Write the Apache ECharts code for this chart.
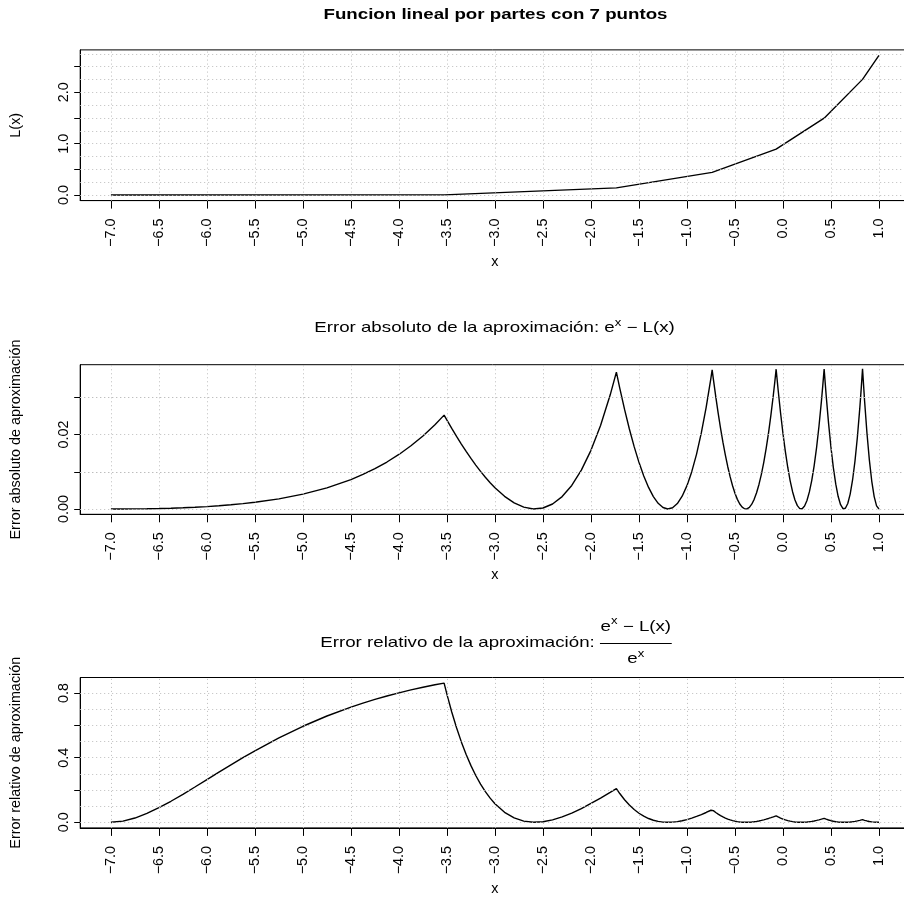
<!DOCTYPE html>
<html>
<head>
<meta charset="utf-8">
<script src="https://cdn.jsdelivr.net/npm/echarts@6.0.0/dist/echarts.min.js"></script>
<style>
  html, body { margin: 0; padding: 0; background: #ffffff; }
  #chart { width: 904px; height: 899px; }
</style>
</head>
<body>
<div id="chart"></div>
<script>
// Piecewise-linear approximation of e^x on [-7, 1] built from 7 tangent points,
// with its absolute and relative error.

const FONT_FAMILY = '"Liberation Sans", Arial, Helvetica, sans-serif';
const BASE_SIZE = 14.4;
const TEXT_STRETCH = 1.3;

// x ticks shared by the three panels
const xTickValues = [-7, -6.5, -6, -5.5, -5, -4.5, -4, -3.5, -3, -2.5, -2, -1.5, -1, -0.5, 0, 0.5, 1];
const xTickLabels = ['−7.0', '−6.5', '−6.0', '−5.5', '−5.0', '−4.5', '−4.0', '−3.5', '−3.0',
                     '−2.5', '−2.0', '−1.5', '−1.0', '−0.5', '0.0', '0.5', '1.0'];

// L(x): break points of the piecewise linear function
const nodeX = [-7, -3.5295, -1.7351, -0.7376, -0.0712, 0.4288, 0.8287, 1];
const nodeL = [0.000912, 0.004077, 0.139568, 0.440867, 0.893715, 1.497696, 2.252732, 2.718282];

// sample positions for the error curves (one line per linear piece)
const xGrid = [
  -7, -6.875, -6.75, -6.625, -6.5, -6.375, -6.25, -6.125, -6, -5.875, -5.75, -5.625, -5.5,
  -5.25, -5, -4.75, -4.5, -4.375, -4.25, -4.125, -4, -3.875, -3.75, -3.625, -3.5295,
  -3.5, -3.45, -3.4, -3.35, -3.3, -3.25, -3.2, -3.15, -3.1, -3.05, -3.0, -2.9, -2.8, -2.7, -2.6,
  -2.5, -2.4, -2.3, -2.2, -2.1, -2.0, -1.9, -1.8, -1.7351,
  -1.7, -1.65, -1.6, -1.55, -1.5, -1.45, -1.4, -1.35, -1.3, -1.25, -1.2, -1.15, -1.1, -1.05, -1.0,
  -0.95, -0.9, -0.85, -0.8, -0.75, -0.7376,
  -0.725, -0.7, -0.675, -0.65, -0.625, -0.6, -0.575, -0.55, -0.525, -0.5, -0.475, -0.45, -0.425, -0.4,
  -0.375, -0.35, -0.325, -0.3, -0.275, -0.25, -0.225, -0.2, -0.175, -0.15, -0.125, -0.1, -0.085, -0.0712,
  -0.05, -0.025, 0, 0.025, 0.05, 0.075, 0.1, 0.125, 0.15, 0.175, 0.2, 0.225, 0.25, 0.275, 0.3,
  0.325, 0.35, 0.375, 0.4, 0.415, 0.4288,
  0.45, 0.475, 0.5, 0.525, 0.55, 0.575, 0.6, 0.625, 0.65, 0.675, 0.7, 0.725, 0.75, 0.775, 0.8, 0.815, 0.8287,
  0.85, 0.875, 0.9, 0.925, 0.95, 0.975, 1.0
];

// e^x - L(x)
const absError = [
  0, 0.0000074, 0.000031, 0.000073, 0.000136, 0.000222, 0.000335, 0.000478, 0.000655, 0.000871, 0.001131, 0.001441, 0.001807,
  0.002740, 0.004002, 0.005688, 0.007917, 0.009283, 0.010845, 0.012630, 0.014668, 0.016993, 0.019642, 0.022660, 0.025241,
  0.023891, 0.021664, 0.019516, 0.017451, 0.015475, 0.013590, 0.011803, 0.010118, 0.008540, 0.007074, 0.005727, 0.003412, 0.001648, 0.000493, 0.000010,
  0.000271, 0.001353, 0.003343, 0.006336, 0.010439, 0.015767, 0.022450, 0.030629, 0.036810,
  0.032505, 0.026769, 0.021515, 0.016764, 0.012544, 0.008883, 0.005808, 0.003350, 0.001540, 0.000411, 0.000001, 0.000340, 0.001473, 0.003438, 0.006277,
  0.010038, 0.014765, 0.020509, 0.027321, 0.035257, 0.037417,
  0.034925, 0.030196, 0.025778, 0.021678, 0.017904, 0.014466, 0.011369, 0.008625, 0.006241, 0.004228, 0.002592, 0.001346, 0.000498, 0.000060,
  0.000039, 0.000449, 0.001298, 0.002601, 0.004365, 0.006605, 0.009330, 0.012557, 0.016293, 0.020555, 0.025354, 0.030706, 0.034187, 0.037582,
  0.031930, 0.025808, 0.020295, 0.015407, 0.011160, 0.007570, 0.004653, 0.002427, 0.000910, 0.000119, 0.000073, 0.000790, 0.002289, 0.004592, 0.007716,
  0.011685, 0.016519, 0.022239, 0.028870, 0.033294, 0.037650,
  0.030501, 0.023011, 0.016525, 0.011071, 0.006673, 0.003359, 0.001154, 0.000089, 0.000191, 0.001491, 0.004018, 0.007804, 0.012880, 0.019278, 0.027037, 0.032353, 0.037686,
  0.029107, 0.020378, 0.013149, 0.007457, 0.003342, 0.000842, 0
];

// (e^x - L(x)) / e^x
const relError = [
  0, 0.00719, 0.02650, 0.05498, 0.09020, 0.13020, 0.17336, 0.21838, 0.26424, 0.31011, 0.35536, 0.39951, 0.44218,
  0.52212, 0.59399, 0.65745, 0.71270, 0.73741, 0.76027, 0.78139, 0.80085, 0.81876, 0.83521, 0.85030, 0.86095,
  0.79117, 0.68242, 0.58479, 0.49741, 0.41957, 0.35049, 0.28956, 0.23611, 0.18957, 0.14937, 0.11503, 0.06201, 0.02710, 0.00734, 0.00014,
  0.00330, 0.01491, 0.03334, 0.05718, 0.08525, 0.11650, 0.15010, 0.18530, 0.20870,
  0.17793, 0.13939, 0.10656, 0.07898, 0.05622, 0.03787, 0.02355, 0.01292, 0.00565, 0.00143, 0.00000, 0.00107, 0.00443, 0.00982, 0.01706,
  0.02596, 0.03632, 0.04798, 0.06080, 0.07464, 0.07823,
  0.07211, 0.06081, 0.05063, 0.04153, 0.03345, 0.02636, 0.02020, 0.01495, 0.01055, 0.00697, 0.00417, 0.00211, 0.00076, 0.00009,
  0.00006, 0.00064, 0.00180, 0.00351, 0.00575, 0.00848, 0.01168, 0.01534, 0.01941, 0.02388, 0.02873, 0.03394, 0.03722, 0.04035,
  0.03357, 0.02646, 0.02030, 0.01503, 0.01062, 0.00702, 0.00421, 0.00214, 0.00078, 0.00010, 0.00006, 0.00063, 0.00178, 0.00349, 0.00572,
  0.00844, 0.01164, 0.01528, 0.01935, 0.02199, 0.02452,
  0.01945, 0.01431, 0.01002, 0.00655, 0.00385, 0.00189, 0.00063, 0.00005, 0.00010, 0.00076, 0.00200, 0.00378, 0.00608, 0.00888, 0.01215, 0.01432, 0.01645,
  0.01244, 0.00849, 0.00535, 0.00296, 0.00129, 0.00032, 0
];

// y axes of the three panels
const yTicksL = [0, 0.5, 1, 1.5, 2, 2.5];
const yLabelValuesL = [0, 1, 2];
const yLabelTextL = ['0.0', '1.0', '2.0'];
const yGridL = [0, 0.25, 0.5, 0.75, 1, 1.25, 1.5, 1.75, 2, 2.25, 2.5, 2.75];

const yTicksAbs = [0, 0.01, 0.02, 0.03];
const yLabelValuesAbs = [0, 0.02];
const yLabelTextAbs = ['0.00', '0.02'];
const yGridAbs = [0, 0.005, 0.01, 0.015, 0.02, 0.025, 0.03, 0.035];

const yTicksRel = [0, 0.2, 0.4, 0.6, 0.8];
const yLabelValuesRel = [0, 0.4, 0.8];
const yLabelTextRel = ['0.0', '0.4', '0.8'];
const yGridRel = [0, 0.1, 0.2, 0.3, 0.4, 0.5, 0.6, 0.7, 0.8];

const mainTitle = 'Funcion lineal por partes con 7 puntos';
const absTitleHead = 'Error absoluto de la aproximación: e';
const relTitleHead = 'Error relativo de la aproximación: ';
const expBase = 'e';
const expPower = 'x';
const diffTail = ' − L(x)';

function pairs(xs, ys) {
  return xs.map(function (x, i) { return [x, ys[i]]; });
}

function lookupLabel(values, texts) {
  return function (v) {
    for (let i = 0; i < values.length; i++) {
      if (Math.abs(values[i] - v) < 1e-9) return texts[i];
    }
    return '';
  };
}

const panels = [
  { top: 49.9, height: 150.7, yMin: -0.1078, yMax: 2.8265, yTicks: yTicksL,
    yLabelValues: yLabelValuesL, yLabelText: yLabelTextL, yGrid: yGridL,
    yName: 'L(x)', data: pairs(nodeX, nodeL) },
  { top: 364.7, height: 149.6, yMin: -0.00142, yMax: 0.03879, yTicks: yTicksAbs,
    yLabelValues: yLabelValuesAbs, yLabelText: yLabelTextAbs, yGrid: yGridAbs,
    yName: 'Error absoluto de aproximación', data: pairs(xGrid, absError) },
  { top: 677.5, height: 150.4, yMin: -0.0345, yMax: 0.8955, yTicks: yTicksRel,
    yLabelValues: yLabelValuesRel, yLabelText: yLabelTextRel, yGrid: yGridRel,
    yName: 'Error relativo de aproximación', data: pairs(xGrid, relError) }
];

const GRID_LEFT = 80.2;
const GRID_WIDTH = 829.5;
const dotted = { color: '#bdbdbd', width: 1, type: [1, 3] };

const grids = panels.map(function (p) {
  return { left: GRID_LEFT, top: p.top, width: GRID_WIDTH, height: p.height,
           show: true, borderColor: '#000', borderWidth: 1, backgroundColor: 'transparent',
           containLabel: false, outerBoundsMode: 'none' };
});

const xAxes = panels.map(function (p, i) {
  return {
    type: 'value', gridIndex: i, min: -7.32, max: 1.32,
    axisLine: { show: true, onZero: false, lineStyle: { color: '#000', width: 1 } },
    axisTick: { show: true, customValues: xTickValues, length: 8, lineStyle: { color: '#000', width: 1 } },
    axisLabel: { show: true, customValues: xTickValues, rotate: 90, margin: 18,
                 fontSize: BASE_SIZE, fontFamily: FONT_FAMILY, color: '#000',
                 formatter: lookupLabel(xTickValues, xTickLabels) },
    splitLine: { show: false },
    name: 'x', nameLocation: 'middle', nameGap: 54,
    nameTextStyle: { fontSize: BASE_SIZE, fontFamily: FONT_FAMILY, color: '#000' }
  };
});

const yAxes = panels.map(function (p, i) {
  return {
    type: 'value', gridIndex: i, min: p.yMin, max: p.yMax,
    axisLine: { show: true, onZero: false, lineStyle: { color: '#000', width: 1 } },
    axisTick: { show: true, customValues: p.yTicks, length: 6, lineStyle: { color: '#000', width: 1 } },
    axisLabel: { show: true, customValues: p.yLabelValues, rotate: 90, margin: 9,
                 fontSize: BASE_SIZE, fontFamily: FONT_FAMILY, color: '#000',
                 formatter: lookupLabel(p.yLabelValues, p.yLabelText) },
    splitLine: { show: false },
    name: p.yName, nameLocation: 'middle', nameRotate: 90, nameGap: 57,
    nameTextStyle: { fontSize: BASE_SIZE, fontFamily: FONT_FAMILY, color: '#000' }
  };
});

const series = [];
panels.forEach(function (p, i) {
  // dotted reference grid
  series.push({
    type: 'line', xAxisIndex: i, yAxisIndex: i, data: [], z: 1, silent: true,
    markLine: {
      silent: true, symbol: ['none', 'none'], label: { show: false }, animation: false,
      lineStyle: dotted,
      data: p.yGrid.map(function (v) { return { yAxis: v }; })
        .concat(xTickValues.map(function (v) { return { xAxis: v }; }))
    }
  });
  // curve
  series.push({
    type: 'line', xAxisIndex: i, yAxisIndex: i, data: p.data, z: 3,
    showSymbol: false, symbol: 'none', silent: true, clip: true,
    lineStyle: { color: '#000', width: 1.4 }
  });
});

// ---- titles (horizontal text is drawn slightly widened) ----
const measureCtx = document.createElement('canvas').getContext('2d');
function textWidth(str, size, weight) {
  measureCtx.font = (weight || 'normal') + ' ' + size + 'px ' + FONT_FAMILY;
  return measureCtx.measureText(str).width;
}
function textEl(x, y, str, size, weight) {
  return { type: 'text', x: x, y: y,
    style: { text: str, fontSize: size, fontWeight: weight || 'normal', fontFamily: FONT_FAMILY,
             fill: '#000', textAlign: 'left', textVerticalAlign: 'middle',
             align: 'left', verticalAlign: 'middle' } };
}

const SUP_SIZE = BASE_SIZE * 0.7;
const SUP_RAISE = -5;

// title 1
const w1 = textWidth(mainTitle, BASE_SIZE, 'bold');
const title1 = { type: 'group', x: 495.5, y: 15, scaleX: TEXT_STRETCH,
  children: [textEl(-w1 / 2, 0, mainTitle, BASE_SIZE, 'bold')] };

// title 2: ... e^x − L(x)
const wHead2 = textWidth(absTitleHead, BASE_SIZE);
const wSup = textWidth(expPower, SUP_SIZE);
const wTail = textWidth(diffTail, BASE_SIZE);
const w2 = wHead2 + wSup + wTail;
const title2 = { type: 'group', x: 494.5, y: 328.5, scaleX: TEXT_STRETCH,
  children: [
    textEl(-w2 / 2, 0, absTitleHead, BASE_SIZE),
    textEl(-w2 / 2 + wHead2, SUP_RAISE, expPower, SUP_SIZE),
    textEl(-w2 / 2 + wHead2 + wSup, 0, diffTail, BASE_SIZE)
  ] };

// title 3: ... (e^x − L(x)) / e^x
const wHead3 = textWidth(relTitleHead, BASE_SIZE);
const wE = textWidth(expBase, BASE_SIZE);
const wNum = wE + wSup + wTail;
const wDen = wE + wSup;
const barW = wNum + 1;
const w3 = wHead3 + barW;
const bar0 = -w3 / 2 + wHead3;
const numLeft = bar0 + (barW - wNum) / 2;
const denLeft = bar0 + (barW - wDen) / 2;
const NUM_Y = -16.3, DEN_Y = 16.3;
const title3 = { type: 'group', x: 496, y: 643, scaleX: TEXT_STRETCH,
  children: [
    textEl(-w3 / 2, 0, relTitleHead, BASE_SIZE),
    textEl(numLeft, NUM_Y, expBase, BASE_SIZE),
    textEl(numLeft + wE, NUM_Y + SUP_RAISE, expPower, SUP_SIZE),
    textEl(numLeft + wE + wSup, NUM_Y, diffTail, BASE_SIZE),
    { type: 'line', shape: { x1: bar0, y1: 0.5, x2: bar0 + barW, y2: 0.5 },
      style: { stroke: '#000', lineWidth: 1 } },
    textEl(denLeft, DEN_Y, expBase, BASE_SIZE),
    textEl(denLeft + wE, DEN_Y + SUP_RAISE, expPower, SUP_SIZE)
  ] };

const chart = echarts.init(document.getElementById('chart'), null, { renderer: 'canvas' });
chart.setOption({
  animation: false,
  backgroundColor: '#ffffff',
  grid: grids,
  xAxis: xAxes,
  yAxis: yAxes,
  series: series,
  graphic: { elements: [title1, title2, title3] }
});
</script>
</body>
</html>
